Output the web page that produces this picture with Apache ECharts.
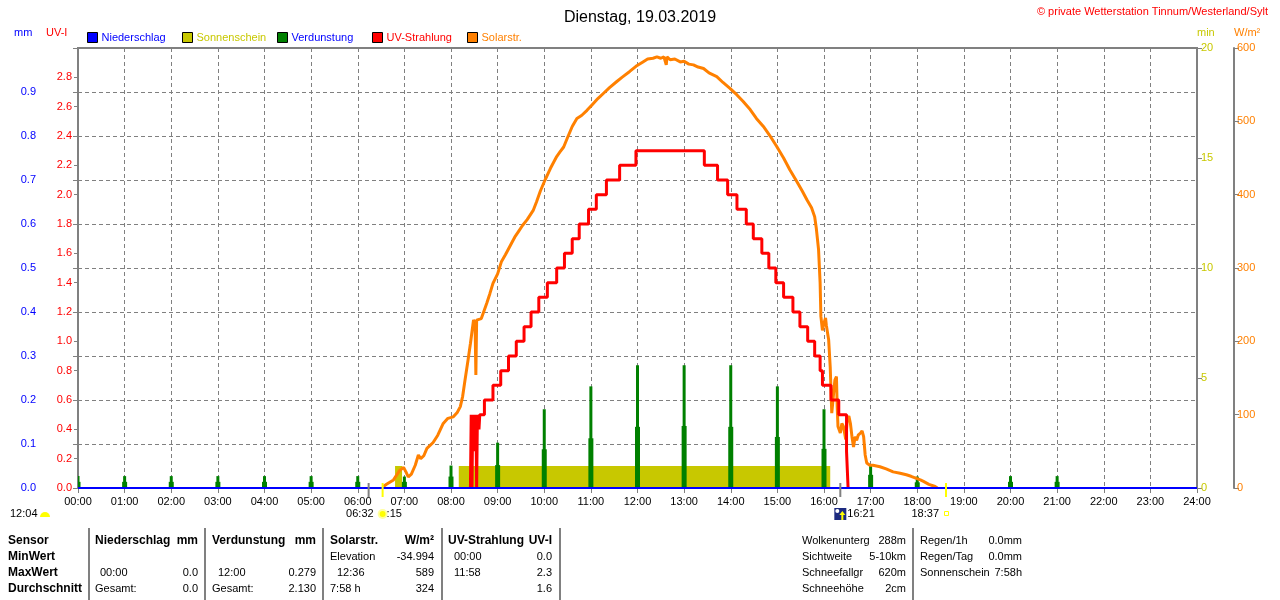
<!DOCTYPE html>
<html>
<head>
<meta charset="utf-8">
<script src="https://cdn.jsdelivr.net/npm/echarts@6/dist/echarts.min.js"></script>
<style>
html,body{margin:0;padding:0;background:#fff}
#main{width:1280px;height:600px}
</style>
</head>
<body>
<div id="main"></div>
<script>
// ---- data (minutes after midnight) ----
var hours = [0,1,2,3,4,5,6,7,8,9,10,11,12,13,14,15,16,17,18,19,20,21,22,23,24];
var niederschlag = [0,0,0,0,0,0,0,0,0,0,0,0,0,0,0,0,0,0,0,0,0,0,0,0,0];

// sunshine minutes (1 min per minute while sunny)
var sonneStart = [408, 490];
var sonneEnd   = [417, 968];

// evaporation per hour (mm): hourly value and the lower companion bar
var verdHours = [0,1,2,3,4,5,6,7,8,9,10,11,12,13,14,15,16,17,18,20,21];
var verdHigh  = [0.027,0.027,0.027,0.027,0.027,0.027,0.027,0.026,0.051,0.103,0.179,0.231,0.279,0.279,0.279,0.231,0.179,0.051,0.026,0.027,0.027];
var verdLow   = [0.014,0.014,0.014,0.014,0.014,0.014,0.014,0.014,0.026,0.052,0.088,0.113,0.139,0.141,0.139,0.116,0.089,0.030,0.013,0.014,0.014];

// UV index, value valid from given minute
var uvTimes  = [505,506,507,508,509,510,511,512,513,514,516,517,523,534,544,554,564,574,583,593,604,616,626,636,645,657,667,680,697,718,806,823,836,848,860,869,880,889,898,908,920,929,939,948,955,958,969,979,989,991];
var uvValues = [0,0.5,0,0.5,0.25,0.5,0.3,0.5,0,0.5,0.4,0.5,0.6,0.7,0.8,0.9,1.0,1.1,1.2,1.3,1.4,1.5,1.6,1.7,1.8,1.9,2.0,2.1,2.2,2.3,2.2,2.1,2.0,1.9,1.8,1.7,1.6,1.5,1.4,1.3,1.2,1.1,1.0,0.9,0.8,0.7,0.6,0.5,0.25,0];

// solar radiation W/m2
var solarTimes  = [393,397,406,414,419,422,425,429,434,438,441,445,449,457,463,470,476,483,488,492,495,498,502,505,509,511,512,513,516,519,522,526,530,534,540,545,550,556,562,567,572,578,586,590,595,601,608,616,620,625,630,636,642,648,655,662,669,676,684,693,700,710,718,727,733,740,745,750,754,756,757,758,762,768,775,780,786,792,798,805,812,822,830,839,848,856,865,873,882,890,899,908,916,925,932,938,944,948,950,953,955,956,958,960,962,963,966,968,970,972,974,976,977,978,981,983,985,988,990,992,994,996,998,1000,1002,1004,1007,1009,1011,1013,1015,1019,1023,1032,1040,1049,1058,1066,1072,1079,1084,1088,1095,1103,1106];
var solarValues = [2,5,11,24,28,22,15,19,31,45,40,44,54,62,72,88,95,97,103,111,125,147,175,197,229,225,154,229,230,231,240,252,265,279,292,309,318,330,342,350,358,366,379,390,405,420,436,452,458,465,478,493,504,508,515,523,531,538,546,554,560,568,575,581,585,586,588,586,588,589,577,588,584,585,581,582,578,577,574,572,566,561,553,545,536,527,516,504,493,481,466,450,434,418,405,393,382,370,355,325,280,234,215,225,232,222,202,165,102,125,147,152,110,84,75,88,84,66,95,98,88,70,56,70,65,72,75,78,70,45,34,31,31,29,26,22,20,18,16,13,11,9,5,2,0];

var dawnMin = 374, sunriseMin = 392, moonriseMin = 981, sunsetMin = 1117;

var FONT = '"Liberation Sans", Arial, sans-serif';
var GRAY = '#808080';
var BLUE = '#0000ff', OLIVE = '#c8c800', GREEN = '#008000', RED = '#ff0000', ORANGE = '#ff8000';

function pairs(xs, ys) {
	var out = [];
	for (var i = 0; i < xs.length; i++) out.push([xs[i], ys[i]]);
	return out;
}

var nsData = pairs(hours.map(function (h) { return h * 60; }), niederschlag);

var sonneData = [[0, 0]];
for (var i = 0; i < sonneStart.length; i++) {
	sonneData.push([sonneStart[i], 1]);
	sonneData.push([sonneEnd[i], 0]);
}
sonneData.push([1440, 0]);

var verdData = [];
for (var i = 0; i < verdHours.length; i++) verdData.push([verdHours[i] * 60, verdHigh[i], verdLow[i]]);

var dom = document.getElementById('main');
var myChart = echarts.init(dom);

var legendNames = ['Niederschlag', 'Sonnenschein', 'Verdunstung', 'UV-Strahlung', 'Solarstr.'];
var legendIcon  = [BLUE, OLIVE, GREEN, RED, ORANGE];
var legendText  = [BLUE, OLIVE, BLUE, RED, ORANGE];

var option = {
	backgroundColor: '#fff',
	animation: false,
	textStyle: { fontFamily: FONT },
	title: {
		text: 'Dienstag, 19.03.2019',
		left: 'center', top: 5,
		textStyle: { fontSize: 16, fontWeight: 'normal', color: '#000', fontFamily: FONT }
	},
	legend: legendNames.map(function (n, i) {
		return {
			data: [{ name: n, icon: 'rect', itemStyle: { color: legendIcon[i], borderColor: '#000', borderWidth: 1 } }],
			left: 87 + i * 95, top: 32, padding: 0,
			itemWidth: 10, itemHeight: 10, selectedMode: false,
			textStyle: { color: legendText[i], fontSize: 11, fontFamily: FONT, padding: [0, 0, 0, -1] }
		};
	}),
	grid: { left: 78, right: 83, top: 48, bottom: 112, show: true, borderColor: GRAY, borderWidth: 2, backgroundColor: '#fff' },
	xAxis: {
		type: 'value', min: 0, max: 1440, interval: 60,
		axisLine: { show: false },
		axisTick: { show: true, length: 5, lineStyle: { color: GRAY } },
		axisLabel: {
			color: '#000', fontSize: 11, margin: 8, fontFamily: FONT,
			formatter: function (v) { var h = Math.round(v / 60); return (h < 10 ? '0' : '') + h + ':00'; }
		},
		splitLine: { show: true, lineStyle: { color: GRAY, type: [4, 3], width: 1 } }
	},
	yAxis: [
		{   // mm
			type: 'value', min: 0, max: 1, interval: 0.1, position: 'left', offset: 37,
			axisLine: { show: true, lineStyle: { color: GRAY, width: 2 } },
			axisTick: { show: true, length: 5, lineStyle: { color: GRAY } },
			axisLabel: { color: BLUE, fontSize: 11, margin: 5, formatter: function (v) { return v > 0.95 ? '' : v.toFixed(1); } },
			splitLine: { show: true, lineStyle: { color: GRAY, type: [4, 3], width: 1 } }
		},
		{   // UV-I
			type: 'value', min: 0, max: 3, interval: 0.2, position: 'left', offset: 0,
			axisLine: { show: true, lineStyle: { color: GRAY, width: 2 } },
			axisTick: { show: true, length: 4, lineStyle: { color: GRAY } },
			axisLabel: { color: RED, fontSize: 11, margin: 6, formatter: function (v) { return v > 2.9 ? '' : v.toFixed(1); } },
			splitLine: { show: false }
		},
		{   // min
			type: 'value', min: 0, max: 20, interval: 5, position: 'right', offset: 0,
			axisLine: { show: true, lineStyle: { color: GRAY, width: 2 } },
			axisTick: { show: true, length: 5, lineStyle: { color: GRAY } },
			axisLabel: { color: OLIVE, fontSize: 11, margin: 4 },
			splitLine: { show: false }
		},
		{   // W/m2
			type: 'value', min: 0, max: 600, interval: 100, position: 'right', offset: 37,
			axisLine: { show: true, lineStyle: { color: GRAY, width: 2 } },
			axisTick: { show: true, length: 5, lineStyle: { color: GRAY } },
			axisLabel: { color: ORANGE, fontSize: 11, margin: 3 },
			splitLine: { show: false }
		}
	],
	series: [
		{
			name: 'Sonnenschein', type: 'line', yAxisIndex: 2, step: 'end',
			showSymbol: false, z: 2,
			lineStyle: { width: 0 }, itemStyle: { color: OLIVE },
			areaStyle: { color: OLIVE, opacity: 1 },
			data: sonneData
		},
		{
			name: 'Verdunstung', type: 'custom', yAxisIndex: 0, z: 3, clip: true,
			itemStyle: { color: GREEN },
			renderItem: function (params, api) {
				var x = api.value(0);
				var base = api.coord([x, 0]);
				var hi = api.coord([x, api.value(1)]);
				var lo = api.coord([x, api.value(2)]);
				return {
					type: 'group',
					children: [
						{ type: 'rect', shape: { x: base[0] - 2.5, y: lo[1], width: 5, height: base[1] - lo[1] }, style: { fill: GREEN } },
						{ type: 'rect', shape: { x: base[0] - 1.5, y: hi[1], width: 3, height: base[1] - hi[1] }, style: { fill: GREEN } }
					]
				};
			},
			data: verdData
		},
		{
			name: 'Solarstr.', type: 'line', yAxisIndex: 3, showSymbol: false, z: 4,
			lineStyle: { width: 3, color: ORANGE }, itemStyle: { color: ORANGE },
			data: pairs(solarTimes, solarValues)
		},
		{
			name: 'UV-Strahlung', type: 'line', yAxisIndex: 1, step: 'end', showSymbol: false, z: 5,
			lineStyle: { width: 3, color: RED }, itemStyle: { color: RED },
			data: pairs(uvTimes, uvValues)
		},
		{
			name: 'Niederschlag', type: 'line', yAxisIndex: 0, showSymbol: false, z: 6,
			lineStyle: { width: 2, color: BLUE }, itemStyle: { color: BLUE },
			data: nsData
		}
	]
};
myChart.setOption(option, true);

// ---- texts, table and sun/moon markers ----
function txt(x, y, s, color, opt) {
	opt = opt || {};
	return {
		type: 'text', x: x, y: y, silent: true, z: 100,
		style: {
			text: s, fill: color || '#000', font: (opt.bold ? 'bold 12px ' : '11px ') + FONT,
			align: opt.align || 'left', verticalAlign: 'middle'
		}
	};
}
function vline(x, y1, y2, color, w) {
	return { type: 'line', silent: true, z: 100, shape: { x1: x, y1: y1, x2: x, y2: y2 }, style: { stroke: color, lineWidth: w || 1 } };
}

var g = [];
g.push(txt(1268, 12, '\u00a9 private Wetterstation Tinnum/Westerland/Sylt', RED, { align: 'right' }));
g.push(txt(14, 33, 'mm', BLUE));
g.push(txt(46, 33, 'UV-I', RED));
g.push(txt(1197, 33, 'min', OLIVE));
g.push(txt(1234, 33, 'W/m\u00b2', ORANGE));

// markers below the time axis
function px(t) { return myChart.convertToPixel({ xAxisIndex: 0, yAxisIndex: 0 }, [t, 0]); }
var pDawn = px(dawnMin), pRise = px(sunriseMin), pMoon = px(moonriseMin), pSet = px(sunsetMin);
var by = pRise[1];
g.push(vline(pDawn[0], by - 5, by + 9, GRAY, 2));
g.push(vline(pRise[0], by - 5, by + 9, '#ffff00', 2));
g.push(vline(pMoon[0], by - 5, by + 9, GRAY, 2));
g.push(vline(pSet[0], by - 5, by + 9, '#ffff00', 2));
g.push(txt(pRise[0] - 9, by + 26, '06:32', '#000', { align: 'right' }));
g.push({ type: 'circle', silent: true, z: 100, shape: { cx: pRise[0], cy: by + 26, r: 5 }, style: { fill: '#ffffa0' } });
g.push({ type: 'circle', silent: true, z: 101, shape: { cx: pRise[0], cy: by + 26, r: 3 }, style: { fill: '#ffff00' } });
g.push(txt(pRise[0] + 4, by + 26, ':15'));
g.push({ type: 'rect', silent: true, z: 100, shape: { x: pMoon[0] - 6, y: by + 20, width: 12, height: 12 }, style: { fill: '#1c2a80' } });
g.push({ type: 'circle', silent: true, z: 101, shape: { cx: pMoon[0] - 3, cy: by + 23, r: 2 }, style: { fill: '#fff' } });
g.push({ type: 'polygon', silent: true, z: 101, shape: { points: [[pMoon[0] + 1, by + 32], [pMoon[0] + 1, by + 27], [pMoon[0] - 1, by + 27], [pMoon[0] + 2, by + 23], [pMoon[0] + 5, by + 27], [pMoon[0] + 3, by + 27], [pMoon[0] + 3, by + 32]] }, style: { fill: '#ffff00' } });
g.push(txt(pMoon[0] + 7, by + 26, '16:21'));
g.push(txt(pSet[0] - 7, by + 26, '18:37', '#000', { align: 'right' }));
g.push({ type: 'rect', silent: true, z: 100, shape: { x: pSet[0] - 1.5, y: by + 23.5, width: 4, height: 4 }, style: { fill: '#fff', stroke: '#ffff00', lineWidth: 1 } });
g.push(txt(10, 514, '12:04'));
g.push({ type: 'sector', silent: true, z: 100, shape: { cx: 45, cy: 517, r0: 0, r: 5, startAngle: Math.PI, endAngle: Math.PI * 2 }, style: { fill: '#ffff00' } });

// table
var rowY = [541, 557, 573, 589];
['Sensor', 'MinWert', 'MaxWert', 'Durchschnitt'].forEach(function (s, i) { g.push(txt(8, rowY[i], s, '#000', { bold: true })); });
[89, 205, 323, 442, 560, 913].forEach(function (x) { g.push(vline(x, 528, 600, GRAY, 2)); });

g.push(txt(95, rowY[0], 'Niederschlag', '#000', { bold: true }));
g.push(txt(198, rowY[0], 'mm', '#000', { bold: true, align: 'right' }));
g.push(txt(100, rowY[2], '00:00'));
g.push(txt(198, rowY[2], '0.0', '#000', { align: 'right' }));
g.push(txt(95, rowY[3], 'Gesamt:'));
g.push(txt(198, rowY[3], '0.0', '#000', { align: 'right' }));

g.push(txt(212, rowY[0], 'Verdunstung', '#000', { bold: true }));
g.push(txt(316, rowY[0], 'mm', '#000', { bold: true, align: 'right' }));
g.push(txt(218, rowY[2], '12:00'));
g.push(txt(316, rowY[2], '0.279', '#000', { align: 'right' }));
g.push(txt(212, rowY[3], 'Gesamt:'));
g.push(txt(316, rowY[3], '2.130', '#000', { align: 'right' }));

g.push(txt(330, rowY[0], 'Solarstr.', '#000', { bold: true }));
g.push(txt(434, rowY[0], 'W/m\u00b2', '#000', { bold: true, align: 'right' }));
g.push(txt(330, rowY[1], 'Elevation'));
g.push(txt(434, rowY[1], '-34.994', '#000', { align: 'right' }));
g.push(txt(337, rowY[2], '12:36'));
g.push(txt(434, rowY[2], '589', '#000', { align: 'right' }));
g.push(txt(330, rowY[3], '7:58 h'));
g.push(txt(434, rowY[3], '324', '#000', { align: 'right' }));

g.push(txt(448, rowY[0], 'UV-Strahlung', '#000', { bold: true }));
g.push(txt(552, rowY[0], 'UV-I', '#000', { bold: true, align: 'right' }));
g.push(txt(454, rowY[1], '00:00'));
g.push(txt(552, rowY[1], '0.0', '#000', { align: 'right' }));
g.push(txt(454, rowY[2], '11:58'));
g.push(txt(552, rowY[2], '2.3', '#000', { align: 'right' }));
g.push(txt(552, rowY[3], '1.6', '#000', { align: 'right' }));

var infoL = [['Wolkenunterg', '288m'], ['Sichtweite', '5-10km'], ['Schneefallgr', '620m'], ['Schneeh\u00f6he', '2cm']];
var infoR = [['Regen/1h', '0.0mm'], ['Regen/Tag', '0.0mm'], ['Sonnenschein', '7:58h']];
infoL.forEach(function (r, i) { g.push(txt(802, rowY[i], r[0])); g.push(txt(906, rowY[i], r[1], '#000', { align: 'right' })); });
infoR.forEach(function (r, i) { g.push(txt(920, rowY[i], r[0])); g.push(txt(1022, rowY[i], r[1], '#000', { align: 'right' })); });

myChart.setOption({ graphic: g });
</script>
</body>
</html>
